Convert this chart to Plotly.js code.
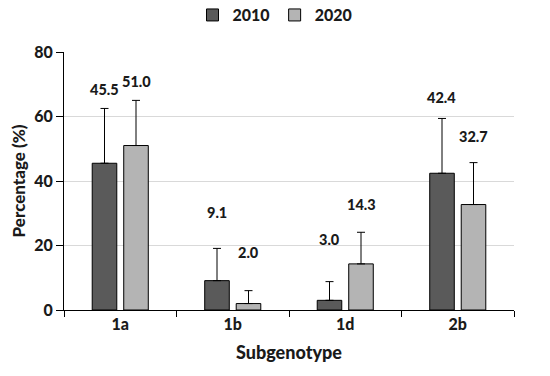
<!DOCTYPE html>
<html><head><meta charset="utf-8">
<script src="https://cdn.plot.ly/plotly-3.0.1.min.js"></script>
<style>html,body{margin:0;padding:0;background:#fff}#chart{width:550px;height:376px}</style>
</head><body><div id="chart"></div>
<script>
const categories = ['1a', '1b', '1d', '2b'];
const seriesNames = ['2010', '2020'];
const values2010 = [45.5, 9.1, 3.0, 42.4];
const values2020 = [51.0, 2.0, 14.3, 32.7];
const err2010 = [17.0, 10.0, 5.8, 17.0];
const err2020 = [14.0, 4.0, 9.8, 13.0];
const labelShift2010 = [19, 36, 42, 21];
const labelShift2020 = [19, 38, 28, 26];

const font = 'Lato, "Open Sans", "DejaVu Sans", sans-serif';
const colors = ['#5a5a5a', '#b4b4b4'];
const txt = '#1a1a1a';
const W = 900;

function barTrace(name, vals, errs, color) {
  return {
    type: 'bar', name: name, x: categories, y: vals,
    marker: {color: color, line: {color: '#000', width: 1}},
    error_y: {type: 'data', symmetric: false, array: errs, arrayminus: errs.map(() => 0),
              color: '#000', thickness: 1, width: 4},
    hoverinfo: 'skip'
  };
}
const traces = [
  barTrace(seriesNames[0], values2010, err2010, colors[0]),
  barTrace(seriesNames[1], values2020, err2020, colors[1])
];

const annotations = [];
[[values2010, err2010, labelShift2010, -0.5], [values2020, err2020, labelShift2020, 0.5]].forEach(([vals, errs, shifts, side]) => {
  categories.forEach((c, i) => {
    annotations.push({
      x: c, y: vals[i] + errs[i], xref: 'x', yref: 'y',
      text: vals[i].toFixed(1), showarrow: false,
      xshift: side * 32, yshift: shifts[i],
      font: {family: font, size: 14.5, color: txt, weight: W}
    });
  });
});

const layout = {
  width: 550, height: 376,
  margin: {l: 64, r: 36, t: 52, b: 66, autoexpand: false},
  paper_bgcolor: '#fff', plot_bgcolor: '#fff',
  barmode: 'group', bargap: 0.44, bargroupgap: 0.22,
  showlegend: true,
  legend: {orientation: 'h', x: 0.5, xref: 'container', xanchor: 'center',
           y: 0.96, yref: 'container', yanchor: 'middle',
           font: {family: font, size: 16, color: txt, weight: W},
           itemwidth: 30, traceorder: 'normal'},
  font: {family: font, color: txt},
  xaxis: {
    type: 'category', showline: true, linecolor: '#000', linewidth: 1,
    ticks: 'outside', tickson: 'boundaries', ticklen: 6, tickcolor: '#000',
    tickfont: {family: font, size: 16, color: txt, weight: W},
    title: {text: 'Subgenotype', font: {family: font, size: 18, color: txt, weight: W}, standoff: 14},
    showgrid: false, fixedrange: true
  },
  yaxis: {
    range: [0, 80], dtick: 20, showline: true, linecolor: '#000', linewidth: 1,
    ticks: 'outside', ticklen: 7, tickcolor: '#000',
    showgrid: true, gridcolor: '#d9d9d9', gridwidth: 1, zeroline: false,
    tickfont: {family: font, size: 16, color: txt, weight: W},
    title: {text: 'Percentage (%)', font: {family: font, size: 17, color: txt, weight: W}, standoff: 4},
    fixedrange: true
  },
  annotations: annotations
};
Plotly.newPlot('chart', traces, layout, {displayModeBar: false, staticPlot: true});
</script></body></html>
